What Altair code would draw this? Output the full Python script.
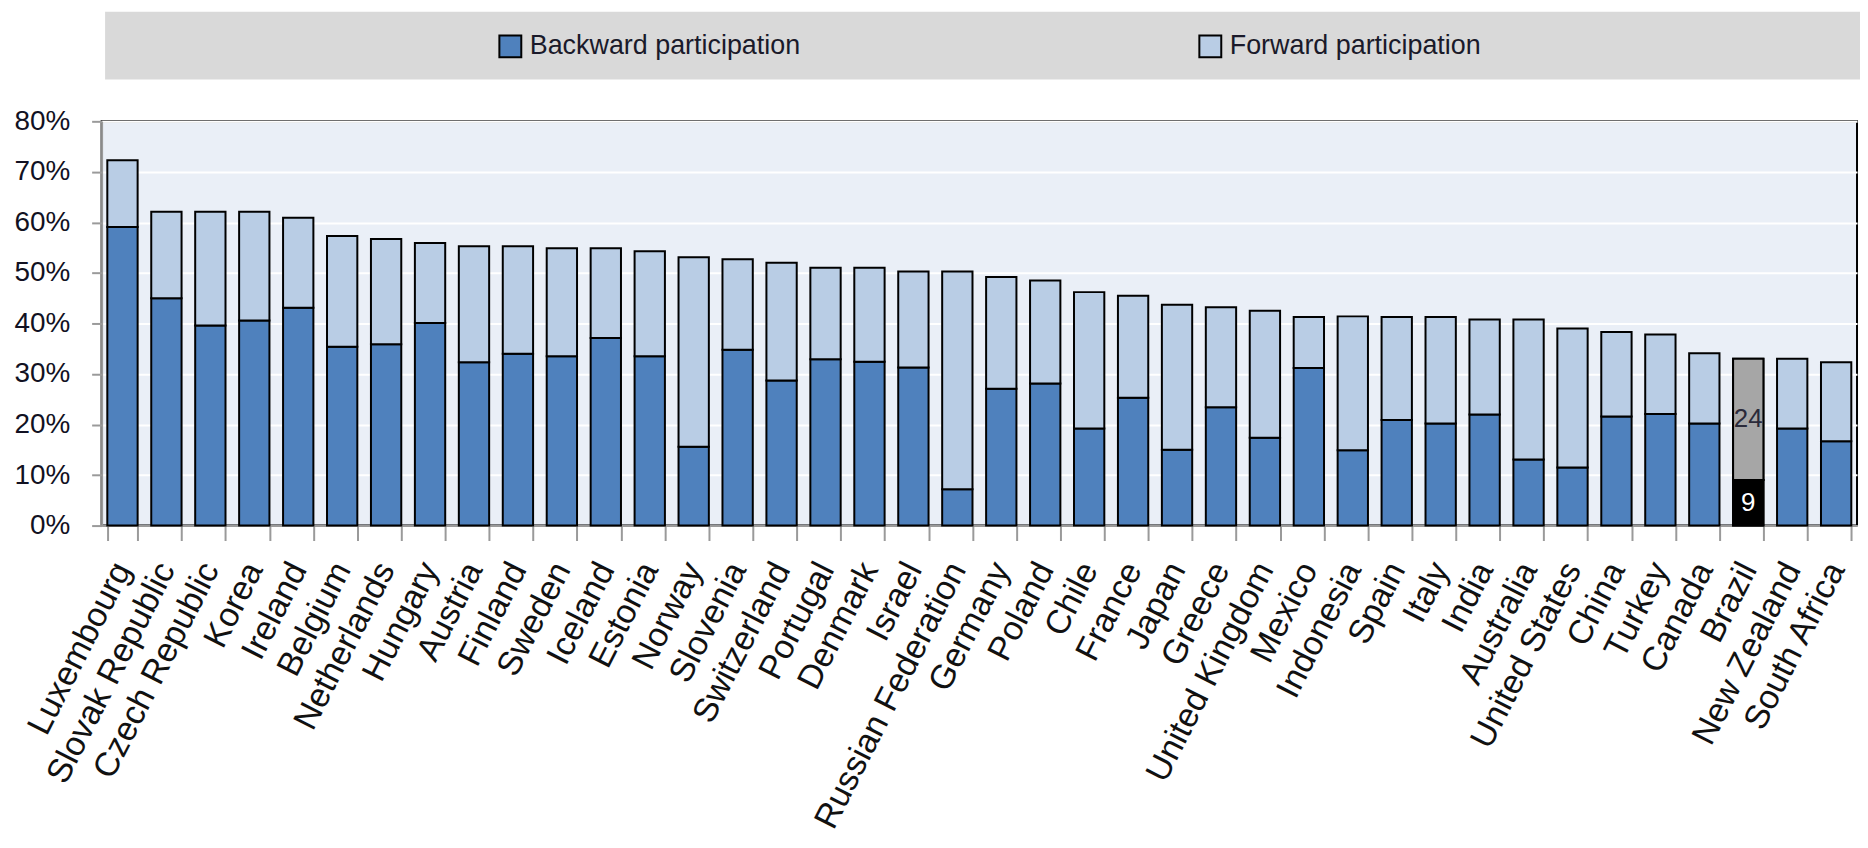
import altair as alt
import pandas as pd

countries = ["Luxembourg", "Slovak Republic", "Czech Republic", "Korea", "Ireland", "Belgium",
             "Netherlands", "Hungary", "Austria", "Finland", "Sweden", "Iceland", "Estonia",
             "Norway", "Slovenia", "Switzerland", "Portugal", "Denmark", "Israel",
             "Russian Federation", "Germany", "Poland", "Chile", "France", "Japan", "Greece",
             "United Kingdom", "Mexico", "Indonesia", "Spain", "Italy", "India", "Australia",
             "United States", "China", "Turkey", "Canada", "Brazil", "New Zealand", "South Africa"]
backward = [59.1, 45.0, 39.6, 40.6, 43.1, 35.4, 35.9, 40.1, 32.3, 34.0, 33.5, 37.1, 33.5,
            15.6, 34.8, 28.7, 32.9, 32.4, 31.3, 7.2, 27.1, 28.1, 19.2, 25.3, 15.0, 23.4,
            17.4, 31.2, 14.9, 20.9, 20.2, 22.0, 13.1, 11.5, 21.6, 22.1, 20.2, 9.0, 19.2, 16.7]
forward = [13.2, 17.1, 22.5, 21.5, 17.8, 21.9, 20.8, 15.8, 23.0, 21.3, 21.4, 17.8, 20.8,
           37.5, 17.9, 23.3, 18.1, 18.6, 19.0, 43.1, 22.1, 20.4, 27.0, 20.2, 28.7, 19.8,
           25.1, 10.1, 26.5, 20.4, 21.1, 18.8, 27.7, 27.5, 16.7, 15.7, 13.9, 24.0, 13.8, 15.6]
series_names = ["Backward participation", "Forward participation"]
series_colors = ["#4f81bd", "#b9cde5"]
highlight = "Brazil"
highlight_colors = ["#000000", "#a6a6a6"]
highlight_text_colors = ["#ffffff", "#2a2a3a"]

rows = []
for c, b, f in zip(countries, backward, forward):
    for i, (s, v) in enumerate(zip(series_names, [b, f])):
        rows.append({"country": c, "series": s, "value": v, "order": i,
                     "fill": highlight_colors[i], "tcol": highlight_text_colors[i]})
df = pd.DataFrame(rows)

SANS = "Liberation Sans, Arial, sans-serif"

x_enc = alt.X("country:N", sort=countries,
              scale=alt.Scale(paddingInner=0.31, paddingOuter=0.13),
              axis=alt.Axis(title=None, labelAngle=-63, labelFont=SANS, labelFontSize=34,
                            labelColor="#111111", tickBand="extent", tickSize=15,
                            tickColor="#9a9a9a", tickWidth=2, domainColor="#9a9a9a",
                            domainWidth=2, labelPadding=24, labelLimit=500, grid=False))
y_scale = alt.Scale(domain=[0, 80], nice=False)
y_axis = alt.Axis(title=None, values=[0, 10, 20, 30, 40, 50, 60, 70, 80],
                  labelExpr="datum.value + '%'", labelFont=SANS, labelFontSize=28,
                  labelColor="#111122", tickSize=10, tickColor="#9a9a9a", tickWidth=2,
                  domainColor="#9a9a9a", domainWidth=2, labelPadding=22,
                  gridColor="#ffffff", gridWidth=2)

base = alt.Chart(df)

band = alt.Chart(pd.DataFrame({"k": [0]})).mark_rect(color="#d9d9d9").encode(
    x=alt.value(3.5), x2=alt.value(1767), y=alt.value(-110), y2=alt.value(-42))

bars = base.mark_bar(stroke="#000000", strokeWidth=2).encode(
    x=x_enc,
    y=alt.Y("value:Q", stack="zero", scale=y_scale, axis=y_axis),
    color=alt.Color("series:N", scale=alt.Scale(domain=series_names, range=series_colors),
                    legend=alt.Legend(orient="none", legendX=397, legendY=-89,
                                      direction="horizontal", title=None,
                                      symbolType="square", symbolSize=484,
                                      symbolStrokeColor="#000000", symbolStrokeWidth=2,
                                      symbolOpacity=1,
                                      labelFont=SANS, labelFontSize=27, labelColor="#1a1a2a",
                                      labelLimit=600, labelOffset=6, columnPadding=396)),
    order=alt.Order("order:Q"),
)

hl = base.transform_filter(alt.datum.country == highlight).mark_bar(
    stroke="#000000", strokeWidth=2).encode(
    x=x_enc,
    y=alt.Y("value:Q", stack="zero", scale=y_scale, axis=y_axis),
    color=alt.Color("fill:N", scale=None),
    order=alt.Order("order:Q"),
)

labels = base.transform_filter(alt.datum.country == highlight).transform_stack(
    stack="value", groupby=["country"], as_=["y0", "y1"],
    sort=[alt.SortField("order", order="ascending")]
).transform_calculate(mid="(datum.y0 + datum.y1) / 2").mark_text(
    font=SANS, fontSize=26, baseline="middle", align="center").encode(
    x=x_enc,
    y=alt.Y("mid:Q", scale=y_scale, axis=y_axis),
    text=alt.Text("value:Q", format=".0f"),
    color=alt.Color("tcol:N", scale=None),
)

chart = alt.layer(band, bars, hl, labels).properties(
    width=1763, height=406,
    padding={"left": 94, "top": 112, "right": 3, "bottom": 322},
    autosize=alt.AutoSizeParams(type="none"),
).configure_view(fill="#eaeff7", stroke="#000000", strokeWidth=2)

chart.save("out.html", embed_options={"renderer": "svg", "actions": False})
